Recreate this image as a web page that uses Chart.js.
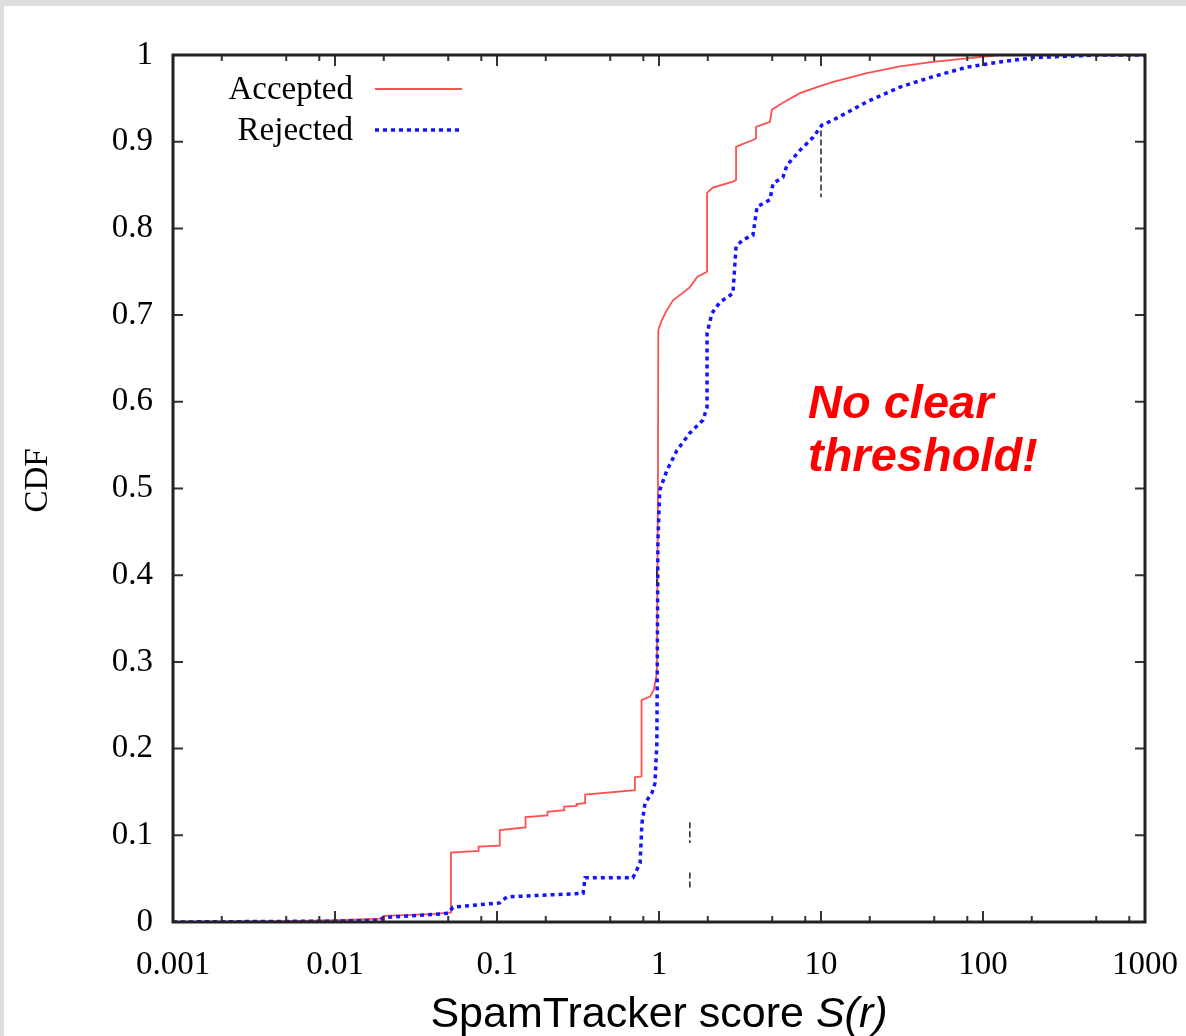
<!DOCTYPE html>
<html>
<head>
<meta charset="utf-8">
<script src="https://cdn.jsdelivr.net/npm/chart.js@4.4.1/dist/chart.umd.min.js"></script>
<style>
  html, body { margin: 0; padding: 0; background: #dedede; }
  #wrap { position: absolute; left: 4px; top: 6px; width: 1182px; height: 1030px; background: #fff; }
</style>
</head>
<body>
<div id="wrap"><canvas id="cdf" width="1182" height="1030"></canvas></div>
<script>
// Data (step corners of each CDF)
const acceptedX = [0.001, 0.005, 0.01, 0.019, 0.02, 0.04, 0.052, 0.052, 0.077, 0.077, 0.104, 0.104, 0.15, 0.15, 0.205, 0.205, 0.26, 0.26, 0.31, 0.31, 0.35, 0.35, 0.71, 0.71, 0.78, 0.78, 0.88, 0.93, 0.97, 0.985, 0.99, 1.04, 1.12, 1.22, 1.55, 1.72, 1.98, 1.98, 2.15, 2.86, 2.99, 2.99, 3.16, 3.8, 3.97, 3.97, 4.84, 4.98, 5.82, 7.41, 9.45, 11.9, 19.2, 30.7, 49, 79.6, 127, 1000];
const acceptedY = [0, 0.001, 0.002, 0.004, 0.007, 0.009, 0.011, 0.08, 0.082, 0.087, 0.088, 0.106, 0.109, 0.121, 0.123, 0.127, 0.129, 0.133, 0.134, 0.136, 0.137, 0.147, 0.152, 0.167, 0.168, 0.256, 0.26, 0.268, 0.287, 0.5, 0.683, 0.694, 0.706, 0.717, 0.732, 0.744, 0.75, 0.841, 0.847, 0.854, 0.856, 0.894, 0.896, 0.902, 0.904, 0.917, 0.923, 0.937, 0.945, 0.956, 0.963, 0.969, 0.979, 0.987, 0.992, 0.996, 1, 1];

const rejectedX = [0.001, 0.01, 0.019, 0.02, 0.05, 0.0535, 0.078, 0.104, 0.115, 0.34, 0.35, 0.69, 0.764, 0.785, 0.82, 0.905, 0.944, 0.97, 0.985, 1.01, 1.12, 1.29, 1.55, 1.87, 1.98, 1.98, 2.12, 2.38, 2.86, 2.99, 3.3, 3.8, 4.03, 4.84, 5.06, 5.82, 6.17, 7.41, 8.93, 10.1, 11.9, 19.2, 30.7, 49, 79.6, 127, 204, 525, 1000];
const rejectedY = [0, 0.001, 0.002, 0.005, 0.01, 0.017, 0.02, 0.022, 0.029, 0.033, 0.051, 0.051, 0.068, 0.114, 0.137, 0.149, 0.16, 0.206, 0.44, 0.498, 0.521, 0.544, 0.564, 0.579, 0.594, 0.679, 0.702, 0.715, 0.725, 0.779, 0.787, 0.792, 0.825, 0.833, 0.852, 0.859, 0.873, 0.89, 0.905, 0.919, 0.925, 0.946, 0.963, 0.975, 0.986, 0.992, 0.997, 1, 1];

// stray black marks in the original scan (null = gap)
const marksX = [10, 10, 10, 0.97, 0.97, 0.97, 1.55, 1.55, 1.55, 1.55, 1.55];
const marksY = [0.913, 0.836, null, 0.406, 0.389, null, 0.115, 0.091, null, 0.057, 0.039];

const xTicks = [0.001, 0.01, 0.1, 1, 10, 100, 1000];
const xTickLabels = ['0.001', '0.01', '0.1', '1', '10', '100', '1000'];
const xMinorMult = [2, 5, 8];
const yTicks = [0, 0.1, 0.2, 0.3, 0.4, 0.5, 0.6, 0.7, 0.8, 0.9, 1];
const yTickLabels = ['0', '0.1', '0.2', '0.3', '0.4', '0.5', '0.6', '0.7', '0.8', '0.9', '1'];

const SERIF = '"Liberation Serif", "DejaVu Serif", serif';
const SANS = '"Liberation Sans", Arial, sans-serif';

function toPoints(xs, ys) {
    return xs.map((x, i) => ({ x: x, y: ys[i] }));
}

// frame, inside ticks, legend, titles and the note
const decor = {
    id: 'decor',
    afterDraw(chart) {
        const ctx = chart.ctx;
        const a = chart.chartArea;
        const xs = chart.scales.x;
        const ys = chart.scales.y;
        ctx.save();

        // ticks (gnuplot style, pointing inward on all sides)
        ctx.strokeStyle = '#333';
        ctx.lineWidth = 2;
        ctx.beginPath();
        xTicks.forEach(v => {
            const p = xs.getPixelForValue(v);
            ctx.moveTo(p, a.bottom); ctx.lineTo(p, a.bottom - 11);
            ctx.moveTo(p, a.top); ctx.lineTo(p, a.top + 11);
            xMinorMult.forEach(m => {
                const mv = v * m;
                if (mv >= xs.max) return;
                const mp = xs.getPixelForValue(mv);
                ctx.moveTo(mp, a.bottom); ctx.lineTo(mp, a.bottom - 6);
                ctx.moveTo(mp, a.top); ctx.lineTo(mp, a.top + 6);
            });
        });
        yTicks.forEach(v => {
            const p = ys.getPixelForValue(v);
            ctx.moveTo(a.left, p); ctx.lineTo(a.left + 10, p);
            ctx.moveTo(a.right, p); ctx.lineTo(a.right - 10, p);
        });
        ctx.stroke();

        // frame
        ctx.strokeStyle = '#222';
        ctx.lineWidth = 3;
        ctx.strokeRect(a.left, a.top, a.right - a.left, a.bottom - a.top);

        // legend
        ctx.font = '33px ' + SERIF;
        ctx.fillStyle = '#000';
        ctx.textAlign = 'right';
        ctx.textBaseline = 'middle';
        const legendSets = chart.data.datasets.filter(d => d.label);
        legendSets.forEach((d, i) => {
            const ly = 84 + i * 41;
            ctx.fillText(d.label, 349, ly);
            ctx.strokeStyle = d.borderColor;
            ctx.lineWidth = d.borderWidth;
            ctx.setLineDash(d.borderDash || []);
            ctx.beginPath();
            ctx.moveTo(371, ly - 1);
            ctx.lineTo(458, ly - 1);
            ctx.stroke();
        });
        ctx.setLineDash([]);

        // y title
        ctx.save();
        ctx.translate(34, (a.top + a.bottom) / 2 - 8);
        ctx.rotate(-Math.PI / 2);
        ctx.textAlign = 'center';
        ctx.textBaseline = 'middle';
        ctx.font = '33px ' + SERIF;
        ctx.fillText('CDF', 0, 0);
        ctx.restore();

        // x title: "SpamTracker score " + italic "S(r)"
        const t1 = 'SpamTracker score ';
        const t2 = 'S(r)';
        ctx.textAlign = 'left';
        ctx.textBaseline = 'alphabetic';
        ctx.font = '43px ' + SANS;
        const w1 = ctx.measureText(t1).width;
        ctx.font = 'italic 43px ' + SANS;
        const w2 = ctx.measureText(t2).width;
        const x0 = (a.left + a.right) / 2 - (w1 + w2) / 2;
        ctx.font = '43px ' + SANS;
        ctx.fillText(t1, x0, 1021);
        ctx.font = 'italic 43px ' + SANS;
        ctx.fillText(t2, x0 + w1, 1021);

        // note
        ctx.fillStyle = '#ff0000';
        ctx.font = 'italic bold 47px ' + SANS;
        ctx.fillText('No clear', 804, 412);
        ctx.fillText('threshold!', 804, 465);

        ctx.restore();
    }
};

new Chart(document.getElementById('cdf'), {
    type: 'line',
    data: {
        datasets: [
            {
                label: 'Accepted',
                data: toPoints(acceptedX, acceptedY),
                borderColor: '#ff5050',
                borderWidth: 1.8,
                pointRadius: 0,
                tension: 0,
                fill: false,
                order: 2
            },
            {
                label: 'Rejected',
                data: toPoints(rejectedX, rejectedY),
                borderColor: '#1414ff',
                borderWidth: 3.5,
                borderDash: [4, 4],
                pointRadius: 0,
                tension: 0,
                fill: false,
                order: 1
            },
            {
                label: '',
                data: toPoints(marksX, marksY),
                borderColor: '#222',
                borderWidth: 1.5,
                borderDash: [6, 3],
                pointRadius: 0,
                spanGaps: false,
                fill: false,
                order: 0
            }
        ]
    },
    options: {
        responsive: false,
        animation: false,
        events: [],
        layout: { padding: { left: 0, top: 49, right: 41, bottom: 0 } },
        plugins: {
            legend: { display: false },
            tooltip: { enabled: false }
        },
        scales: {
            x: {
                type: 'logarithmic',
                min: 0.001,
                max: 1000,
                grid: { display: false, drawTicks: false },
                border: { display: false },
                afterBuildTicks: s => { s.ticks = xTicks.map(v => ({ value: v })); },
                afterFit: s => { s.height = 114; s.paddingLeft = 0; s.paddingRight = 0; },
                ticks: {
                    autoSkip: false,
                    maxRotation: 0,
                    padding: 24,
                    color: '#000',
                    font: { family: SERIF, size: 33 },
                    callback: (v, i) => xTickLabels[i]
                }
            },
            y: {
                min: 0,
                max: 1,
                grid: { display: false, drawTicks: false },
                border: { display: false },
                afterBuildTicks: s => { s.ticks = yTicks.map(v => ({ value: v })); },
                afterFit: s => { s.width = 169; s.paddingTop = 0; s.paddingBottom = 0; },
                ticks: {
                    autoSkip: false,
                    padding: 20,
                    color: '#000',
                    font: { family: SERIF, size: 33 },
                    callback: (v, i) => yTickLabels[i]
                }
            }
        }
    },
    plugins: [decor]
});
</script>
</body>
</html>
